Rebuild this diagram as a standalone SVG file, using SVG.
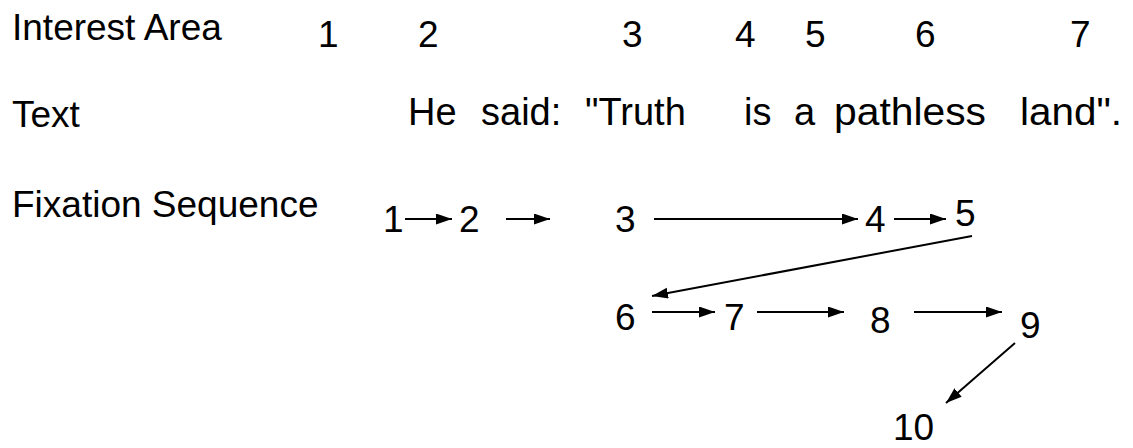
<svg xmlns="http://www.w3.org/2000/svg" width="1133" height="448" viewBox="0 0 1133 448">
<style>
text{font-family:"Liberation Sans",Arial,sans-serif;font-size:37px;fill:#000}
#sentence text{font-size:38px}
.c line{stroke:#000;stroke-width:2;marker-end:url(#ah)}
</style>
<defs>
<marker id="ah" markerUnits="userSpaceOnUse" markerWidth="17" markerHeight="12" refX="16" refY="5.5" orient="auto"><path d="M0,0 L16,5.5 L0,11 z" fill="#000"/></marker>
</defs>
<rect width="1133" height="448" fill="#fff"/>
<g id="labels">
<text x="12" y="40">Interest Area</text>
<text x="12" y="127">Text</text>
<text x="12" y="217">Fixation Sequence</text>
</g>
<g id="interest-areas">
<text x="318" y="47">1</text>
<text x="418" y="47">2</text>
<text x="622" y="47">3</text>
<text x="735" y="47">4</text>
<text x="805" y="47">5</text>
<text x="915" y="47">6</text>
<text x="1070" y="47">7</text>
</g>
<g id="sentence">
<text x="408" y="125">He</text>
<text x="481" y="125">said:</text>
<text x="585" y="125">"Truth</text>
<text x="744" y="125">is</text>
<text x="794" y="125">a</text>
<text x="834" y="125" textLength="152" lengthAdjust="spacingAndGlyphs">pathless</text>
<text x="1020" y="125" textLength="102" lengthAdjust="spacingAndGlyphs">land".</text>
</g>
<g id="f1"><text x="383" y="232">1</text></g>
<g id="f2"><text x="459" y="232">2</text></g>
<g id="f3"><text x="615" y="232">3</text></g>
<g id="f4"><text x="865" y="232">4</text></g>
<g id="f5"><text x="955" y="226">5</text></g>
<g id="f6"><text x="615" y="330">6</text></g>
<g id="f7"><text x="724" y="330">7</text></g>
<g id="f8"><text x="870" y="333">8</text></g>
<g id="f9"><text x="1020" y="338">9</text></g>
<g id="f10"><text x="893" y="440">10</text></g>
<g id="connectors" class="c">
<line x1="405" y1="219" x2="452" y2="219"/>
<line x1="506" y1="219" x2="550" y2="219"/>
<line x1="654" y1="219" x2="858" y2="219"/>
<line x1="894" y1="219" x2="946" y2="219"/>
<line x1="972" y1="236" x2="652" y2="296"/>
<line x1="652" y1="312" x2="715" y2="312"/>
<line x1="757" y1="312" x2="844" y2="312"/>
<line x1="914" y1="312" x2="1002" y2="312"/>
<line x1="1015" y1="343" x2="946" y2="403"/>
</g>
</svg>
